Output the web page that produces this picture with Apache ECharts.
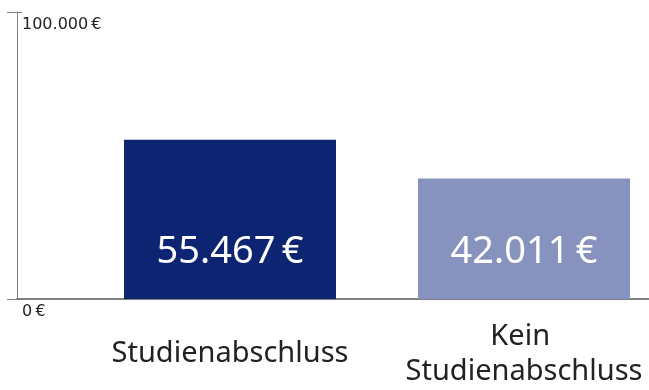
<!DOCTYPE html>
<html>
<head>
<meta charset="utf-8">
<script src="https://cdn.jsdelivr.net/npm/echarts@6/dist/echarts.min.js"></script>
<style>
  html, body { margin: 0; padding: 0; background: #fff; }
  #chart { width: 649px; height: 390px; }
</style>
</head>
<body>
<div id="chart"></div>
<script>
// Durchschnittliches Bruttojahresgehalt nach Abschluss
const categories = ['Studienabschluss', 'Kein Studienabschluss'];
const salaries = [55467, 42011];
const barColors = ['#0d2473', '#8793be'];
const yTicks = [0, 100000];

const FONT = '"Noto Sans", "Open Sans", sans-serif';

// German number format with a thin space before the euro sign
function euro(v) {
  const s = String(Math.round(v)).replace(/\B(?=(\d{3})+(?!\d))/g, '.');
  return s + '\u2009€';
}

const chart = echarts.init(document.getElementById('chart'), null, { renderer: 'canvas' });

const gridTop = 12;
const gridBottom = 91;

chart.setOption({
  animation: false,
  backgroundColor: '#ffffff',
  grid: [
    // bars: category positions sit on the grid edges
    { left: 230, right: 125, top: gridTop, bottom: gridBottom, containLabel: false, outerBoundsMode: 'none' },
    // axis frame
    { left: 17, right: 0, top: gridTop, bottom: gridBottom, containLabel: false, outerBoundsMode: 'none' }
  ],
  xAxis: [
    {
      gridIndex: 0,
      type: 'category',
      data: categories,
      boundaryGap: false,
      axisLine: { show: false },
      axisTick: { show: false },
      axisLabel: {
        interval: 0,
        showMinLabel: true,
        showMaxLabel: true,
        hideOverlap: false,
        margin: 55,
        verticalAlign: 'middle',
        fontFamily: FONT,
        fontSize: 29,
        lineHeight: 35,
        color: '#222',
        width: 250,
        overflow: 'break'
      }
    },
    {
      gridIndex: 1,
      type: 'value',
      min: 0,
      max: 1,
      axisLine: { show: true, lineStyle: { color: '#808080', width: 2 } },
      axisTick: { show: false },
      axisLabel: { show: false },
      splitLine: { show: false }
    }
  ],
  yAxis: [
    {
      gridIndex: 0,
      type: 'value',
      min: yTicks[0],
      max: yTicks[yTicks.length - 1],
      show: false
    },
    {
      gridIndex: 1,
      type: 'value',
      position: 'left',
      min: yTicks[0],
      max: yTicks[yTicks.length - 1],
      interval: yTicks[1] - yTicks[0],
      axisLine: { show: true, lineStyle: { color: '#808080', width: 1 } },
      axisTick: { show: true, length: 10, lineStyle: { color: '#808080', width: 1 } },
      splitLine: { show: false },
      axisLabel: {
        inside: true,
        margin: 5,
        verticalAlign: 'top',
        padding: [5, 0, 0, 0],
        fontFamily: '"DejaVu Sans", sans-serif',
        fontSize: 16,
        color: '#222',
        formatter: function (v) { return euro(v); }
      }
    },
    {
      // short inner part of the top tick
      gridIndex: 1,
      type: 'value',
      position: 'left',
      offset: 0,
      min: yTicks[0],
      max: yTicks[yTicks.length - 1],
      interval: yTicks[1] - yTicks[0],
      axisLine: { show: false },
      axisTick: { show: true, inside: true, length: 5, lineStyle: { color: '#808080', width: 1 } },
      axisLabel: { show: false },
      splitLine: { show: false }
    }
  ],
  series: [
    {
      type: 'bar',
      xAxisIndex: 0,
      yAxisIndex: 0,
      barWidth: 212,
      data: salaries.map(function (v, i) {
        return { value: v, itemStyle: { color: barColors[i] } };
      }),
      label: {
        show: true,
        position: 'insideBottom',
        distance: 28,
        fontFamily: FONT,
        fontSize: 38,
        color: '#ffffff',
        formatter: function (p) { return euro(p.value); }
      },
      z: 1
    }
  ]
});
</script>
</body>
</html>
